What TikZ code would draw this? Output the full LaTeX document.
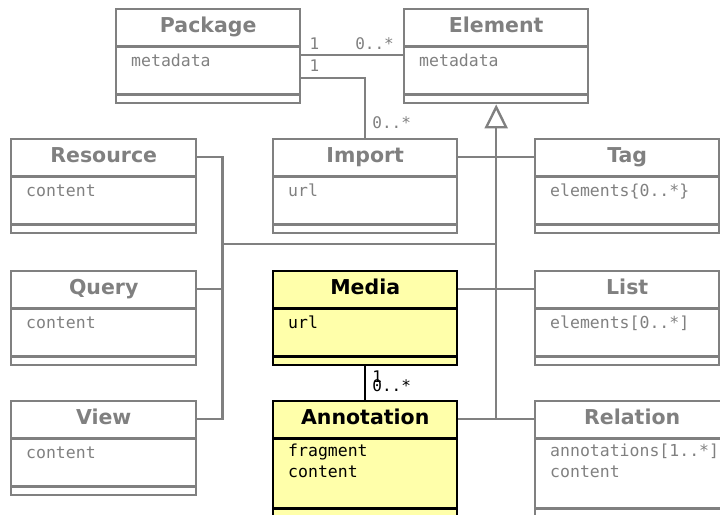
\documentclass[tikz,border=0pt]{standalone}
\usepackage{fontspec}
\setsansfont{DejaVu Sans}
\setmonofont{DejaVu Sans Mono}
\usetikzlibrary{arrows.meta}

\definecolor{fadegray}{HTML}{808080}
\definecolor{noteyellow}{HTML}{FFFFAA}

\tikzset{
  faded/.style={draw=fadegray, text=fadegray, line width=2.4pt},
  focus/.style={draw=black, text=black, fill=noteyellow, line width=2.4pt},
  classbox/.style={rectangle, inner sep=0pt},
  head/.style={font=\sffamily\bfseries\fontsize{20.5}{23}\selectfont, inner sep=0pt, text height=14.5pt, text depth=4pt, minimum height=36pt},
  attr/.style={font=\ttfamily\fontsize{16.5}{21}\selectfont, align=left, inner sep=0pt, execute at begin node=\strut},
  link/.style={draw=fadegray, line width=2.4pt},
  mult/.style={font=\ttfamily\fontsize{16}{18}\selectfont, text=fadegray, inner sep=0pt}
}

% #1 look, #2 name, #3 north west corner, #4 width, #5 title, #6 attributes, #7 height of attributes
\newcommand\umlclass[7]{%
  \node[classbox, #1, minimum width=#4, minimum height={46pt+#7}, anchor=north west] (#2) at #3 {};
  \node[head, #1, draw=none, fill=none, minimum width=#4, anchor=north] (#2-head) at (#2.north) {#5};
  \draw[#1, fill=none] (#2-head.south west) -- (#2-head.south east);
  \draw[#1, fill=none] ([yshift=10pt]#2.south west) -- ([yshift=10pt]#2.south east);
  \node[attr, #1, draw=none, fill=none, anchor=north west] at ([xshift=15pt, yshift=-4.3pt]#2-head.south west) {#6};
}

\begin{document}
\begin{tikzpicture}[x=1pt, y=-1pt]
\useasboundingbox (0,0) rectangle (720,514);

\umlclass{faded}{package}{(115,8)}{184pt}{Package}{metadata}{48pt}
\umlclass{faded}{element}{(403,8)}{184pt}{Element}{metadata}{48pt}
\umlclass{faded}{resource}{(10,138)}{185pt}{Resource}{content}{48pt}
\umlclass{faded}{import}{(272,138)}{184pt}{Import}{url}{48pt}
\umlclass{faded}{tag}{(534,138)}{184pt}{Tag}{elements\{0..*\}}{48pt}
\umlclass{faded}{query}{(10,270)}{185pt}{Query}{content}{48pt}
\umlclass{focus}{media}{(272,270)}{184pt}{Media}{url}{48pt}
\umlclass{faded}{list}{(534,270)}{184pt}{List}{elements[0..*]}{48pt}
\umlclass{faded}{view}{(10,400)}{185pt}{View}{content}{48pt}
\umlclass{focus}{annotation}{(272,400)}{184pt}{Annotation}{fragment\\content}{70pt}
\umlclass{faded}{relation}{(534,400)}{194pt}{Relation}{annotations[1..*]\\content}{70pt}

% associations
\draw[link] ([yshift=-47pt]package.north east) -- ([yshift=-47pt]element.north west)
  node[pos=0, mult, anchor=south west, xshift=7pt, yshift=4pt] {1}
  node[pos=1, mult, anchor=south east, xshift=-8pt, yshift=4pt] {0..*};
\draw[link] ([yshift=-70pt]package.north east) -| (import.north)
  node[pos=0, mult, anchor=south west, xshift=7pt, yshift=5pt] {1}
  node[pos=1, mult, anchor=south west, xshift=6pt, yshift=8pt] {0..*};
\draw[line width=2.4pt] (media.south) -- (annotation.north)
  node[pos=0, mult, text=black, anchor=north west, xshift=6pt, yshift=-3pt] {1}
  node[pos=1, mult, text=black, anchor=south west, xshift=6pt, yshift=7pt] {0..*};

% generalization
\coordinate (trunk) at (element.south |- annotation-head.east);
\draw[link, -{Triangle[open, length=24pt, width=23pt]}] (trunk) -- (element.south);
\draw[link] (import-head.east) -- (tag-head.west);
\draw[link] (media-head.east) -- (list-head.west);
\draw[link] (annotation-head.east) -- (relation-head.west);
\draw[link] (resource-head.east) -- ++(25,0) |- (view-head.east);
\draw[link] (query-head.east) -- ++(25,0);
\coordinate (branch) at ([xshift=25pt, yshift=-87pt]resource-head.east);
\draw[link] (branch) -- (branch -| trunk);
\end{tikzpicture}
\end{document}
